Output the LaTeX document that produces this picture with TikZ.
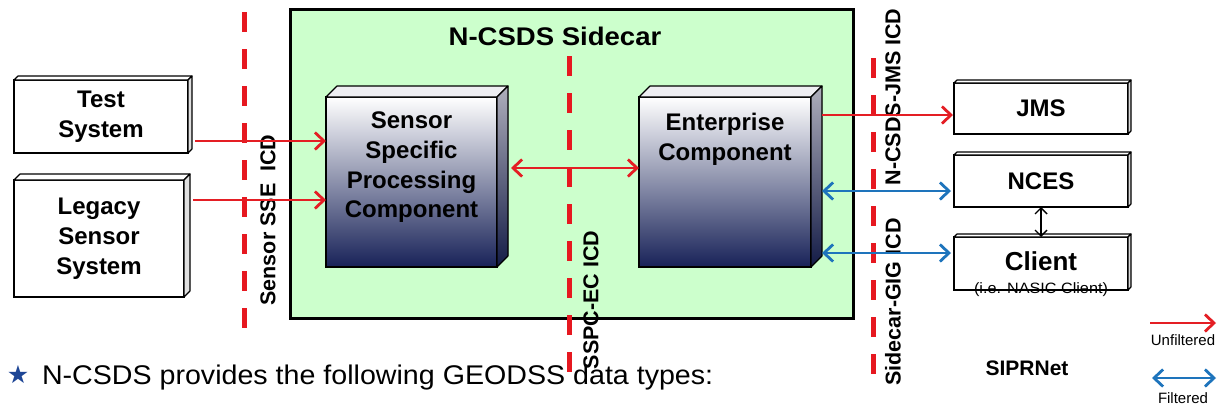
\documentclass[tikz,border=0pt]{standalone}
\usepackage{fontspec}
\setmainfont{Liberation Sans}
\newfontfamily\symfont{DejaVu Sans}
\usetikzlibrary{arrows.meta,calc}
\definecolor{sgreen}{RGB}{204,255,204}
\definecolor{icdred}{RGB}{230,24,32}
\definecolor{arred}{RGB}{228,30,36}
\definecolor{arblue}{RGB}{30,116,188}
\definecolor{navy}{RGB}{24,34,88}
\definecolor{compmid}{RGB}{192,192,204}
\definecolor{sidetop}{RGB}{175,175,188}
\definecolor{topface}{RGB}{238,238,242}
\definecolor{starblue}{RGB}{30,70,150}
\newcommand\cubefaces[4]{%
  \filldraw[draw=black, line width=1.1pt, line join=round, fill=#3]
    (#1.north west) -- ++(#2,-#2) -- ($(#1.north east)+(#2,-#2)$) -- (#1.north east) -- cycle;
  \filldraw[draw=black, line width=1.1pt, line join=round, #4]
    (#1.north east) -- ++(#2,-#2) -- ($(#1.south east)+(#2,-#2)$) -- (#1.south east) -- cycle;}
\begin{document}
\begin{tikzpicture}[x=1pt,y=-1pt,
  every node/.style={inner sep=0pt, outer sep=0pt},
  lbl/.style={font=\fontsize{24}{30}\selectfont\bfseries, align=center},
  flat/.style={draw=black, line width=1.3pt, fill=white},
  comp/.style={draw=black, line width=1.3pt, top color=white, middle color=compmid, bottom color=navy},
  icd/.style={draw=icdred, line width=5pt, dash pattern=on 20pt off 17pt},
  icdlbl/.style={font=\fontsize{21.5}{24}\selectfont\bfseries, rotate=90},
  unf/.style={draw=arred, line width=2.8pt, -{Straight Barb[length=9pt,width=17pt]}},
  unfd/.style={draw=arred, line width=2.8pt, {Straight Barb[length=9pt,width=17pt]}-{Straight Barb[length=9pt,width=17pt]}},
  fil/.style={draw=arblue, line width=2.8pt, {Straight Barb[length=9pt,width=17pt]}-{Straight Barb[length=9pt,width=17pt]}},
]
\fill[white] (0,0) rectangle (1221,408);
\useasboundingbox (0,0) rectangle (1221,408);

% sidecar
\node[draw=black, line width=3pt, fill=sgreen, minimum width=563, minimum height=309, anchor=north west] (sidecar) at (290,9) {};
\node[font=\fontsize{25.5}{30}\selectfont\bfseries, xscale=1.08] (title) at (555,36) {N-CSDS Sidecar};

% ICD dashed lines
\draw[icd] (244,12) -- (244,340);
\draw[icd] (569,56) -- (569,388);
\draw[icd] (873,58) -- (873,390);

% ICD labels
\node[icdlbl] (l1) at (268,220) {Sensor SSE\ \ ICD};
\node[icdlbl] (l2) at (591,300) {SSPC-EC ICD};
\node[icdlbl] (l3) at (893,97) {N-CSDS-JMS ICD};
\node[icdlbl] (l4) at (893,302) {Sidecar-GIG ICD};

% left boxes
\node[flat, lbl, minimum width=174, minimum height=73, anchor=north west] (test) at (14,80) {Test\\System};
\cubefaces{test}{4}{white}{fill=gray!25}
\node[flat, lbl, minimum width=170, minimum height=117, anchor=north west] (legacy) at (14,180) {Legacy\\Sensor\\System};
\cubefaces{legacy}{6}{white}{fill=gray!25}

% component boxes
\node[comp, minimum width=171, minimum height=170, anchor=north west] (ssp) at (326,97) {};
\cubefaces{ssp}{11}{topface}{top color=sidetop, bottom color=navy!80!black}
\node[lbl, anchor=north, font=\fontsize{24}{29.7}\selectfont\bfseries] (ssptxt) at ($(ssp.north)+(0,15)$) {Sensor\\Specific\\Processing\\Component};

\node[comp, minimum width=172, minimum height=170, anchor=north west] (ec) at (639,97) {};
\cubefaces{ec}{11}{topface}{top color=sidetop, bottom color=navy!80!black}
\node[lbl, anchor=north, font=\fontsize{24}{29.7}\selectfont\bfseries] (ectxt) at ($(ec.north)+(0,16)$) {Enterprise\\Component};

% right boxes
\node[flat, lbl, minimum width=174, minimum height=51, anchor=north west] (jms) at (954,83) {JMS};
\cubefaces{jms}{3}{white}{fill=gray!30}
\node[flat, lbl, minimum width=174, minimum height=52, anchor=north west] (nces) at (954,155) {NCES};
\cubefaces{nces}{3}{white}{fill=gray!30}
\node[flat, minimum width=174, minimum height=53, anchor=north west] (client) at (954,237) {};
\cubefaces{client}{3}{white}{fill=gray!30}
\node[font=\fontsize{26}{30}\selectfont\bfseries] (clienttxt) at (1041,261) {Client};
\node[anchor=base, font=\fontsize{15}{18}\selectfont, xscale=1.08] (clientsub) at (1041,293) {(i.e. NASIC Client)};

% connectors
\draw[unf, shorten <=7pt] (test.east |- 0,141) -- (ssp.west |- 0,141);
\draw[unf, shorten <=9pt] (legacy.east |- 0,200) -- (ssp.west |- 0,200);
\draw[unfd, shorten <=14pt] (ssp.east |- 0,168) -- (ec.west |- 0,168);
\draw[unf, shorten <=11pt, shorten >=1pt] (ec.east |- 0,115) -- (jms.west |- 0,115);
\draw[fil, shorten <=11pt, shorten >=3pt] (ec.east |- 0,191) -- (nces.west |- 0,191);
\draw[fil, shorten <=11pt, shorten >=3pt] (ec.east |- 0,253) -- (client.west |- 0,253);
\draw[black, line width=1.4pt, {Straight Barb[length=6pt,width=12pt]}-{Straight Barb[length=6pt,width=12pt]}] (nces.south) -- (client.north);

% legend
\coordinate (u1) at (1150,323);
\coordinate (u2) at (1216,323);
\draw[unf] (u1) -- (u2);
\node[font=\fontsize{15}{18}\selectfont] (unftxt) at (1183,340) {Unfiltered};
\coordinate (f1) at (1152,378);
\coordinate (f2) at (1216,378);
\draw[fil] (f1) -- (f2);
\node[font=\fontsize{15}{18}\selectfont] (filtxt) at (1183,398) {Filtered};
\node[font=\fontsize{21}{24}\selectfont\bfseries] (sipr) at (1027,368) {SIPRNet};

% bottom text
\node[text=starblue, font=\symfont\fontsize{25}{28}\selectfont] (star) at (18,375) {★};
\node[anchor=base west, font=\fontsize{27}{30}\selectfont, xscale=1.06] (bottom) at (42,384) {N-CSDS provides the following GEODSS data types:};
\end{tikzpicture}
\end{document}
